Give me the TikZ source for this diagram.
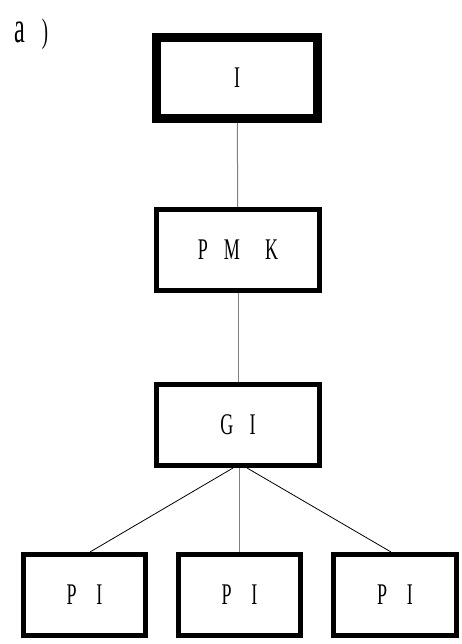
\documentclass[tikz,border=0pt]{standalone}
\usepackage{fontspec}
\setmainfont{Liberation Serif}
\usetikzlibrary{positioning}
\newcommand{\narrowtext}[1]{\scalebox{0.6}[1]{#1}}

\begin{document}
\begin{tikzpicture}[x=1pt,y=1pt,
  box/.style={draw,line width=5pt,minimum width=163pt,minimum height=81pt,inner sep=0pt,font=\fontsize{30}{30}\selectfont},
  smallbox/.style={box,minimum width=122pt},
  link/.style={gray,line width=1pt},
  branch/.style={black,line width=0.8pt}]
\useasboundingbox (0,0) rectangle (462,644);
\node [anchor=base west,inner sep=0pt] (tag) at (14,601) {\scalebox{0.55}[1]{\fontsize{44}{44}\selectfont a\hspace{31pt}\fontsize{34}{34}\selectfont )}};
\node [box,line width=9pt,minimum width=161pt] (I) at (237,566) {\narrowtext{I}};
\node [box] (PMK) at (238,394) {\narrowtext{P\hspace{0.9em}M\hspace{1.4em}K}};
\node [box] (GI) at (238,219) {\narrowtext{G\hspace{0.9em}I}};
\node [smallbox] (PI1) at (84.5,49) {\narrowtext{P\hspace{1.1em}I}};
\node [smallbox] (PI2) at (239.5,49) {\narrowtext{P\hspace{1.1em}I}};
\node [smallbox,minimum width=123pt] (PI3) at (395,49) {\narrowtext{P\hspace{1.1em}I}};
\draw [link] (I) -- (PMK);
\draw [link] (PMK) -- (GI);
\draw [link] (GI.south -| PI2) -- (PI2);
\draw [branch] ([xshift=-5pt]GI.south) -- ([xshift=5.5pt]PI1.north);
\draw [branch] ([xshift=9pt]GI.south) -- ([xshift=-4pt]PI3.north);
\end{tikzpicture}
\end{document}
